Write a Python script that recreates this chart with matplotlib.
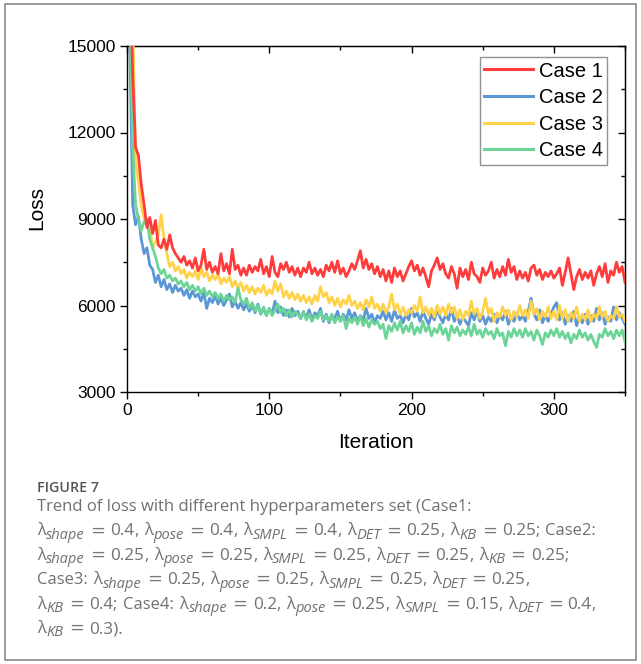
import re
import numpy as np
import matplotlib
matplotlib.use("Agg")
import matplotlib.pyplot as plt
from matplotlib.patches import Rectangle

plt.rcParams['font.family'] = ['Liberation Sans', 'DejaVu Sans']

# loss recorded every 2 iterations
iteration = np.arange(0, 351, 2)

case1 = [24000, 18000, 14000, 11500, 11200, 10200, 9500, 8700, 9050, 8500,
         8950, 8100, 8000, 8300, 7950, 8450, 8000, 7800, 7650, 7500,
         7700, 7400, 7550, 7300, 7650, 7200, 7400, 7950, 7250, 7500,
         7150, 7350, 7100, 7800, 7200, 7450, 7100, 7950, 7250, 7400,
         7050, 7300, 7050, 7400, 7150, 7350, 7200, 7600, 7100, 7350,
         7000, 7700, 7150, 7000, 7450, 7250, 7500, 7150, 7350, 7050,
         7300, 7000, 7300, 7150, 7500, 7100, 7300, 7050, 7250, 7000,
         7400, 7200, 7500, 7150, 7550, 7100, 7300, 7000, 7200, 7450,
         7250, 7550, 7900, 7300, 7600, 7250, 7450, 7100, 7350, 7000,
         7250, 6850, 7200, 6800, 7300, 7000, 7200, 6850, 7100, 7350,
         7550, 7200, 7400, 7050, 7300, 7000, 6650, 7200, 7400, 7650,
         7250, 7450, 7100, 6950, 7350, 7100, 6600, 7300, 7000, 7250,
         6900, 7500, 7100, 7000, 6800, 7300, 7050, 7200, 7500, 6950,
         7250, 7000, 7350, 7050, 7600, 7150, 7350, 6900, 7200, 6950,
         7150, 6850, 7300, 7400, 7050, 7250, 6900, 7150, 7000, 7200,
         6950, 7100, 7300, 6700, 7150, 7650, 7100, 6550, 7000, 7250,
         6900, 7150, 6950, 7200, 6700, 7100, 7350, 7000, 7450, 6800,
         7200, 7050, 7500, 7150, 7350, 6800]

case2 = [24000, 15000, 9500, 8800, 9100, 8300, 7800, 8000, 7400, 7250,
         6800, 7050, 6650, 6900, 6550, 6750, 6450, 6700, 6500, 6600,
         6350, 6550, 6250, 6500, 6300, 6400, 6150, 6450, 5900, 6250,
         6100, 6350, 6050, 6250, 6000, 6200, 6400, 5950, 6150, 5900,
         6100, 5850, 6050, 5800, 6000, 5750, 6050, 5700, 5900, 5650,
         5900, 5700, 6150, 5750, 5950, 5650, 5850, 5600, 5900, 5650,
         5800, 5550, 5750, 5600, 5850, 5500, 5750, 5650, 5900, 5450,
         5700, 5400, 5650, 5550, 5800, 5450, 5700, 5500, 5850, 5550,
         5750, 5450, 5650, 5500, 5900, 5550, 5700, 5400, 5650, 5550,
         5800, 5500, 5750, 5450, 5850, 5550, 5650, 5400, 5700, 5500,
         5900, 5600, 5750, 5450, 5800, 5550, 5350, 5700, 5500, 5850,
         5600, 5400, 5700, 5500, 5900, 5450, 5650, 5350, 5600, 5450,
         5300, 5750, 5500, 5850, 5450, 5650, 5350, 5600, 5450, 5700,
         5400, 5650, 5500, 5800, 5350, 5600, 5450, 5750, 5500, 5650,
         5450, 5800, 6250, 5700, 5500, 5850, 5400, 5650, 5450, 5700,
         5950, 6100, 5500, 5750, 5350, 5650, 5450, 5800, 5300, 5600,
         5400, 5700, 5350, 5650, 5450, 5900, 5500, 5750, 5350, 5600,
         5450, 5950, 5500, 5750, 5550, 5350]

case3 = [24000, 20000, 16000, 11000, 10300, 9500, 9000, 8800, 8700, 8000,
         8200, 8450, 9150, 8300, 7800, 7350, 7500, 7200, 7350, 7100,
         7250, 6950, 7150, 7000, 7200, 6900, 7300, 7000, 7150, 6850,
         7050, 6900, 7100, 6750, 6950, 6800, 7000, 6650, 6850, 6600,
         6800, 6500, 6700, 6450, 6650, 6400, 6600, 6450, 6700, 6350,
         6550, 6400, 6850, 6500, 6750, 6300, 6500, 6250, 6450, 6200,
         6400, 6150, 6350, 6100, 6300, 6050, 6350, 6150, 6650, 6300,
         6450, 6100, 6300, 6000, 6250, 5950, 6200, 6050, 6350, 6000,
         6150, 5900, 6100, 5850, 6200, 5950, 6300, 5900, 6050, 5800,
         6050, 5750, 5950, 6400, 5850, 6050, 5700, 5950, 5650, 5850,
         5750, 6000, 5800, 6300, 5750, 5950, 5650, 5900, 5600, 6000,
         5700, 5950, 5650, 6050, 5750, 5950, 5550, 5850, 5500, 5800,
         5650, 6150, 5700, 5900, 5550, 5800, 6250, 5700, 5900, 5450,
         5750, 5600, 5950, 5650, 5850, 5500, 5800, 5600, 6000, 5650,
         5850, 5550, 6150, 5700, 5900, 5500, 5800, 5600, 5950, 5550,
         5800, 5500, 6000, 5550, 5850, 5450, 5750, 5550, 5950, 5450,
         5700, 5500, 5850, 5450, 5700, 5550, 5950, 5600, 5800, 5450,
         5650, 5550, 5950, 5600, 5700, 5450]

case4 = [24000, 16000, 11500, 9500, 9000, 8600, 8900, 9000, 8300, 8000,
         7700, 7300, 7100, 7250, 6950, 7050, 6850, 6950, 6750, 6850,
         6650, 6800, 6550, 6700, 6500, 6650, 6400, 6600, 6350, 6500,
         6300, 6450, 6250, 6400, 6150, 6350, 6200, 6300, 6100, 6600,
         6200, 6050, 6250, 5900, 6100, 5800, 6000, 5700, 5950, 5650,
         5900, 5650, 5850, 6050, 5750, 5900, 5650, 5850, 5600, 5800,
         5700, 5550, 5800, 5500, 5700, 5450, 5650, 5550, 5800, 5500,
         5650, 5450, 5700, 5400, 5600, 5450, 5650, 5200, 5550, 5400,
         5600, 5350, 5650, 5300, 5550, 5250, 5500, 5350, 5450, 5200,
         5350, 4850, 5300, 5100, 5400, 5150, 5450, 5050, 5300, 5100,
         5400, 5000, 5250, 5050, 5450, 5100, 5300, 4950, 5200, 5050,
         5350, 5000, 5200, 4800, 5300, 5050, 5250, 4950, 5150, 5000,
         5250, 4950, 5350, 5000, 5150, 4900, 5200, 5000, 5100, 4850,
         5200, 4950, 5050, 4600, 5100, 4900, 5200, 4950, 5150, 4900,
         5200, 4950, 5100, 4800, 5150, 4950, 4650, 5050, 4900, 5150,
         4950, 5200, 4900, 5100, 4850, 5050, 4700, 5000, 4850, 5150,
         4900, 5050, 4800, 5000, 4750, 4550, 5000, 4900, 5200, 4950,
         5100, 4850, 5150, 4950, 5150, 4750]

labels = ['Case 1', 'Case 2', 'Case 3', 'Case 4']
colors = ['#ff3b3b', '#5b96d6', '#ffd24a', '#6bd496']

caption_title = 'FIGURE 7'
caption_first = 'Trend of loss with different hyperparameters set (Case1:'
# _{...} marks an italic subscript
caption_lines = [
    'λ_{shape} = 0.4, λ_{pose} = 0.4, λ_{SMPL} = 0.4, λ_{DET} = 0.25, λ_{KB} = 0.25; Case2:',
    'λ_{shape} = 0.25, λ_{pose} = 0.25, λ_{SMPL} = 0.25, λ_{DET} = 0.25, λ_{KB} = 0.25;',
    'Case3: λ_{shape} = 0.25, λ_{pose} = 0.25, λ_{SMPL} = 0.25, λ_{DET} = 0.25,',
    'λ_{KB} = 0.4; Case4: λ_{shape} = 0.2, λ_{pose} = 0.25, λ_{SMPL} = 0.15, λ_{DET} = 0.4,',
    'λ_{KB} = 0.3).',
]

W, H = 641, 664
fig = plt.figure(figsize=(W / 100, H / 100), dpi=100)
ax = fig.add_axes([127 / W, 1 - 392 / H, 498 / W, 346 / H])

series = [case1, case2, case3, case4]
zorders = [5, 2, 3, 4]
for vals, lab, col, z in zip(series, labels, colors, zorders):
    ax.plot(iteration, vals, color=col, lw=2.0, label=lab, zorder=z)

ax.set_xlim(0, 350)
ax.set_ylim(3000, 15000)
ax.set_xticks([0, 100, 200, 300])
ax.set_xticks([50, 150, 250, 350], minor=True)
ax.set_yticks([3000, 6000, 9000, 12000, 15000])
ax.set_yticks([4500, 7500, 10500, 13500], minor=True)

for s in ax.spines.values():
    s.set_linewidth(1.0)
ax.tick_params(axis='both', which='major', direction='out', length=5, width=1.0,
               labelsize=12.5, pad=3)
ax.tick_params(axis='both', which='minor', direction='out', length=3, width=1.0)

# mirrored ticks on top/right pointing inward
top = ax.secondary_xaxis('top')
top.set_xticks([0, 100, 200, 300])
top.set_xticks([50, 150, 250, 350], minor=True)
top.tick_params(which='major', direction='in', length=5, width=1.0, labeltop=False)
top.tick_params(which='minor', direction='in', length=3, width=1.0)
right = ax.secondary_yaxis('right')
right.set_yticks([3000, 6000, 9000, 12000, 15000])
right.set_yticks([4500, 7500, 10500, 13500], minor=True)
right.tick_params(which='major', direction='in', length=5, width=1.0, labelright=False)
right.tick_params(which='minor', direction='in', length=3, width=1.0)

ax.set_xlabel('Iteration', fontsize=15, labelpad=11)
ax.set_ylabel('Loss', fontsize=15)
ax.yaxis.set_label_coords(-0.163, 0.532)

leg = ax.legend(loc='upper right', bbox_to_anchor=(0.964, 0.968), borderaxespad=0,
                fontsize=14.5, frameon=True, fancybox=False, handlelength=2.4,
                handletextpad=0.3, labelspacing=0.38, borderpad=0.22)
leg.get_frame().set_edgecolor('#777777')
leg.get_frame().set_linewidth(1.0)
for ln in leg.get_lines():
    ln.set_linewidth(2.2)

# outer frame
fig.patches.append(Rectangle((5 / W, 1 - 660 / H), 631 / W, 656 / H,
                             transform=fig.transFigure, fill=False,
                             edgecolor='#8a8a8a', lw=1.2))

# caption
renderer = fig.canvas.get_renderer()
cap = dict(family='Open Sans', color='#707070', va='baseline')


def put(x, y, s, **kw):
    t = fig.text(x / W, 1 - y / H, s, **{**cap, **kw})
    return t.get_window_extent(renderer).width


x0 = 37
put(x0, 491.7, caption_title, fontsize=10.3, weight='semibold', color='#555555')
put(x0, 511, caption_first, fontsize=12)

for k, line in enumerate(caption_lines):
    y = 511 + 24.4 * (k + 1)
    x = x0
    for tok in re.split(r'(_\{[^}]*\}| = |[,;] ?| )', line):
        if not tok:
            continue
        if tok.startswith('_{'):
            x += 0.5
            x += put(x, y + 3.5, tok[2:-1], fontsize=10.5, style='italic')
        elif tok == ' = ':
            x += 5.5
            x += put(x, y, '=', fontsize=13, family='DejaVu Sans', color='#7a7a7a') + 5
        elif tok[0] in ',;':
            x += put(x, y, tok[0], fontsize=12)
            if tok.endswith(' '):
                x += 5.5
        elif tok == ' ':
            x += 5.5
        else:
            size = 12.3 if tok[0].isdigit() else 12
            x += put(x, y, tok, fontsize=size)

fig.savefig('out.png', dpi=100)
